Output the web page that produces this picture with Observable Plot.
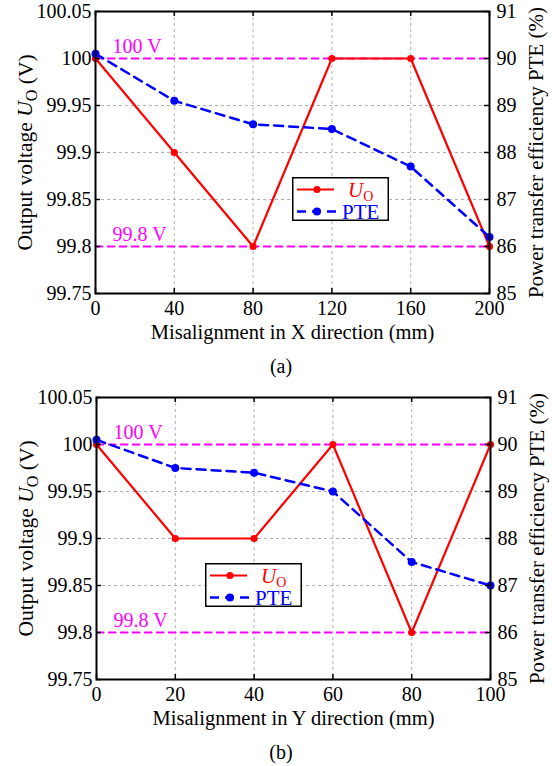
<!DOCTYPE html>
<html>
<head>
<meta charset="utf-8">
<script src="https://cdn.jsdelivr.net/npm/d3@7"></script>
<script src="https://cdn.jsdelivr.net/npm/@observablehq/plot@0.6"></script>
<style>
  html, body { margin: 0; padding: 0; background: #fff; }
  #wrap { position: relative; width: 552px; height: 766px; font-family: 'Liberation Serif'; }
  .fig { position: absolute; left: 0; }
  .cap { position: absolute; width: 60px; text-align: center; font-size: 20px; line-height: 1; font-family: 'Liberation Serif'; }
  .legend { position: absolute; }
  svg text, svg tspan { font-family: 'Liberation Serif' !important; }
</style>
</head>
<body>
<div id="wrap"></div>
<script>
// ---- data ----
const xA = [0, 40, 80, 120, 160, 200];
const uoA = [100, 99.9, 99.8, 100, 100, 99.8];
const pteA = [90.1, 89.1, 88.6, 88.5, 87.7, 86.2];
const xTicksA = [0, 40, 80, 120, 160, 200];

const xB = [0, 20, 40, 60, 80, 100];
const uoB = [100, 99.9, 99.9, 100, 99.8, 100];
const pteB = [90.1, 89.5, 89.4, 89.0, 87.5, 87.0];
const xTicksB = [0, 20, 40, 60, 80, 100];

const voltTicks = [99.75, 99.8, 99.85, 99.9, 99.95, 100, 100.05];
const voltLabels = ["99.75", "99.8", "99.85", "99.9", "99.95", "100", "100.05"];
const pteTicks = [85, 86, 87, 88, 89, 90, 91];
const refLines = [100, 99.8];
const refLabels = ["100 V", "99.8 V"];

const titleXA = "Misalignment in X direction (mm)";
const titleXB = "Misalignment in Y direction (mm)";
const titleYL = "Output voltage UO (V)";
const titleYR = "Power transfer efficiency PTE (%)";

const FONT = "Liberation Serif";

// map PTE (%) onto the voltage scale (85–91 ↔ 99.75–100.05)
const toV = p => 99.75 + (p - 85) * 0.05;
const toP = v => 85 + (v - 99.75) / 0.05;

const W = 552, H = 345, MT = 11, MB = 52;

function panel({xs, uo, pte, xTicks, xLabel, ml, mr}) {
  const rows = xs.map((x, i) => ({x, uo: uo[i], pte: toV(pte[i])}));
  const innerW = W - ml - mr, innerH = H - MT - MB;
  const grid = {stroke: "#b0b0b0", strokeOpacity: 1, strokeWidth: 1, strokeDasharray: "3,3"};
  const svg = Plot.plot({
    width: W, height: H, marginTop: MT, marginBottom: MB, marginLeft: ml, marginRight: mr,
    style: {fontSize: "20px", color: "black", background: "white", overflow: "visible"},
    x: {domain: [xTicks[0], xTicks[xTicks.length - 1]]},
    y: {domain: [voltTicks[0], voltTicks[voltTicks.length - 1]]},
    marks: [
      Plot.gridX(xTicks.slice(1, -1), grid),
      Plot.gridY(voltTicks.slice(1, -1), grid),
      Plot.ruleY(refLines, {y: d => d, stroke: "#ff00ff", strokeWidth: 1.8, strokeDasharray: "8,4"}),
      Plot.text(refLines, {x: xTicks[0], y: d => d, text: (d, i) => refLabels[i], fill: "#ff00ff",
        textAnchor: "start", dx: 17, dy: -12, fontSize: 20, fontFamily: FONT}),
      Plot.line(rows, {x: "x", y: "uo", stroke: "#ff0000", strokeWidth: 2.2}),
      Plot.dot(rows, {x: "x", y: "uo", fill: "#ff0000", r: 3.6}),
      Plot.line(rows, {x: "x", y: "pte", stroke: "#0000ff", strokeWidth: 2.5, strokeDasharray: "9,6"}),
      Plot.dot(rows, {x: "x", y: "pte", fill: "#0000ff", r: 4}),
      // inward ticks on all sides
      Plot.tickX(xTicks, {x: d => d, stroke: "black", strokeWidth: 1.5, insetTop: innerH - 5}),
      Plot.tickX(xTicks, {x: d => d, stroke: "black", strokeWidth: 1.5, insetBottom: innerH - 5}),
      Plot.tickY(voltTicks, {y: d => d, stroke: "black", strokeWidth: 1.5, insetRight: innerW - 5}),
      Plot.tickY(pteTicks.map(toV), {y: d => d, stroke: "black", strokeWidth: 1.5, insetLeft: innerW - 5}),
      Plot.frame({stroke: "black", strokeWidth: 2}),
      Plot.axisX(xTicks, {tickSize: 0, tickPadding: 7, label: null, fontFamily: FONT}),
      Plot.axisY(voltTicks, {anchor: "left", tickSize: 0, tickPadding: 4, label: null, fontFamily: FONT,
        tickFormat: d => voltLabels[voltTicks.indexOf(d)]}),
      Plot.axisY(pteTicks.map(toV), {anchor: "right", tickSize: 0, tickPadding: 7, label: null, fontFamily: FONT,
        tickFormat: v => String(Math.round(toP(v)))}),
      Plot.text([xLabel], {text: d => d, frameAnchor: "bottom", dy: 39, lineAnchor: "middle", fontSize: 20.5, fontFamily: FONT}),
      Plot.text([titleYL], {text: d => d, frameAnchor: "left", textAnchor: "middle", dx: -70, rotate: -90, lineAnchor: "middle", fontSize: 21.5, fontFamily: FONT}),
      Plot.text([titleYR], {text: d => d, frameAnchor: "right", textAnchor: "middle", dx: 47, rotate: -90, lineAnchor: "middle", fontSize: 21, fontFamily: FONT})
    ]
  });
  const s = d3.select(svg);
  s.attr("font-family", FONT).style("font-family", FONT);
  s.selectAll("text").style("font-family", FONT);
  // rich text: italic U with subscript O
  s.selectAll("text").each(function() {
    if (this.textContent === titleYL) {
      const t = d3.select(this);
      t.text("");
      t.append("tspan").text("Output voltage ");
      t.append("tspan").attr("font-style", "italic").text("U");
      t.append("tspan").attr("font-size", "0.75em").attr("dy", "0.3em").text("O");
      t.append("tspan").attr("dy", "-0.22em").text(" (V)");
    }
  });
  return svg;
}

function legend(left, top) {
  const w = 97, h = 44;
  const s = d3.create("svg").attr("width", w).attr("height", h).attr("class", "legend")
    .style("left", left + "px").style("top", top + "px");
  s.append("rect").attr("x", 0.75).attr("y", 0.75).attr("width", w - 1.5).attr("height", h - 1.5)
    .attr("fill", "white").attr("stroke", "black").attr("stroke-width", 1.5);
  const y1 = 12.5, y2 = 34.5;
  s.append("line").attr("x1", 5).attr("x2", 42).attr("y1", y1).attr("y2", y1).attr("stroke", "#ff0000").attr("stroke-width", 2.2);
  s.append("circle").attr("cx", 25).attr("cy", y1).attr("r", 3.6).attr("fill", "#ff0000");
  s.append("line").attr("x1", 5).attr("x2", 44).attr("y1", y2).attr("y2", y2).attr("stroke", "#0000ff").attr("stroke-width", 2.5).attr("stroke-dasharray", "9,6");
  s.append("circle").attr("cx", 25).attr("cy", y2).attr("r", 4).attr("fill", "#0000ff");
  const t1 = s.append("text").attr("x", 56).attr("y", y1 + 7).attr("fill", "#ff0000")
    .style("font-family", FONT).style("font-size", "21px");
  t1.append("tspan").attr("font-style", "italic").text("U");
  t1.append("tspan").attr("font-size", "14px").attr("dy", "4").text("O");
  s.append("text").attr("x", 50).attr("y", y2 + 7).attr("fill", "#0000ff")
    .style("font-family", FONT).style("font-size", "21px").text("PTE");
  return s.node();
}

const wrap = document.getElementById("wrap");

const a = panel({xs: xA, uo: uoA, pte: pteA, xTicks: xTicksA, xLabel: titleXA, ml: 95, mr: 63});
a.classList.add("fig"); a.style.top = "0px"; a.style.position = "absolute";
wrap.appendChild(a);
wrap.appendChild(legend(292, 177));
const capA = document.createElement("div");
capA.className = "cap"; capA.textContent = "(a)"; capA.style.left = "251px"; capA.style.top = "356px";
wrap.appendChild(capA);

const b = panel({xs: xB, uo: uoB, pte: pteB, xTicks: xTicksB, xLabel: titleXB, ml: 96, mr: 62});
b.classList.add("fig"); b.style.top = "386px"; b.style.position = "absolute";
wrap.appendChild(b);
wrap.appendChild(legend(205, 563));
const capB = document.createElement("div");
capB.className = "cap"; capB.textContent = "(b)"; capB.style.left = "251px"; capB.style.top = "742px";
wrap.appendChild(capB);
</script>
</body>
</html>
